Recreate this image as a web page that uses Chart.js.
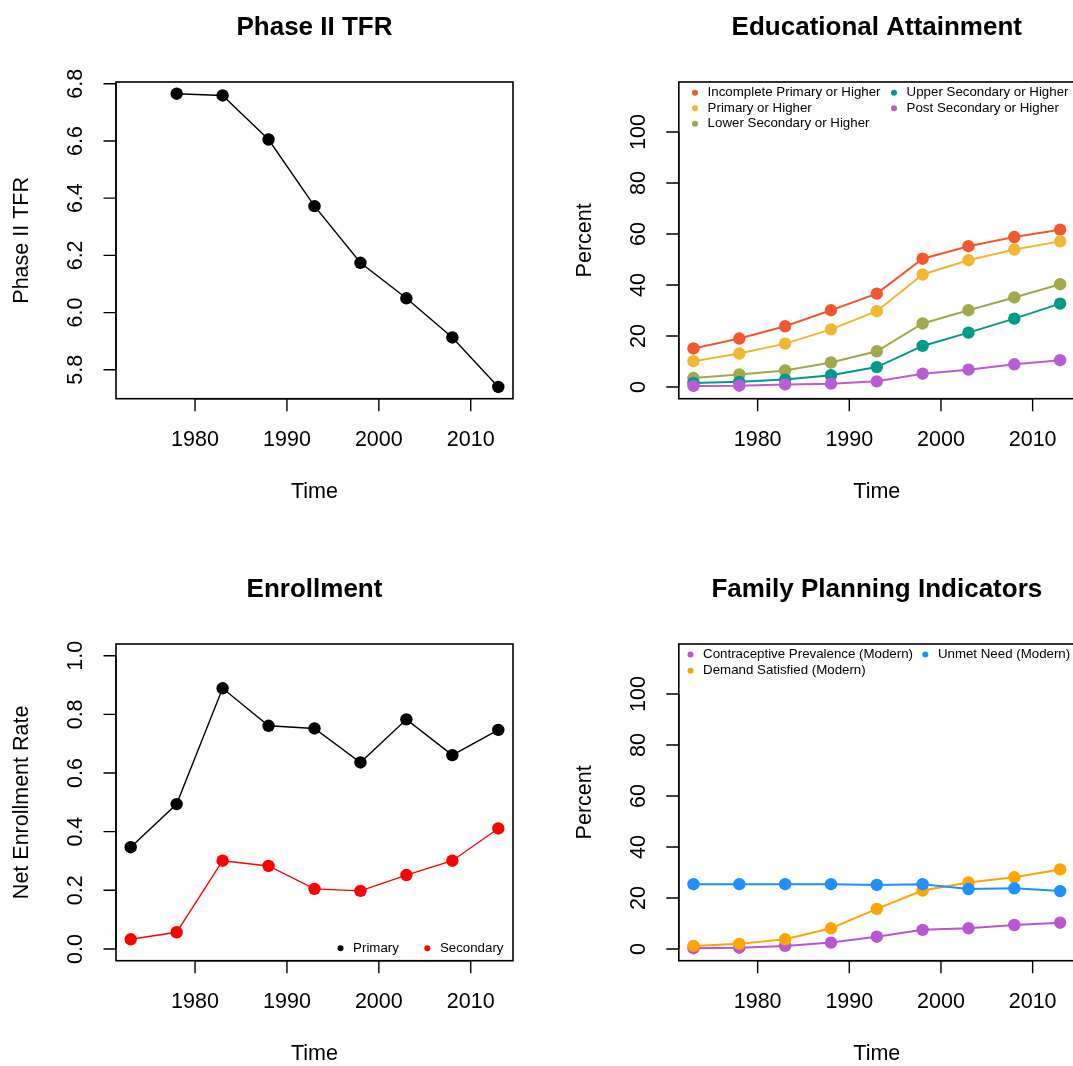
<!DOCTYPE html>
<html>
<head>
<meta charset="utf-8">
<title>Country indicators</title>
<script src="https://cdn.jsdelivr.net/npm/chart.js@4.4.1/dist/chart.umd.min.js"></script>
<style>
  html, body { margin: 0; padding: 0; background: #ffffff; overflow: hidden; width: 1073px; height: 1066px; }
  canvas { position: absolute; }
</style>
</head>
<body>
<canvas id="tfrChart" width="536" height="562" style="left:0;top:0"></canvas>
<canvas id="eduChart" width="545" height="562" style="left:536px;top:0"></canvas>
<canvas id="enrChart" width="536" height="504" style="left:0;top:562px"></canvas>
<canvas id="fpChart" width="545" height="504" style="left:536px;top:562px"></canvas>
<script>
// ---- data ----
const surveyYears = [1973, 1978, 1983, 1988, 1993, 1998, 2003, 2008, 2013];
const tfrYears = [1978, 1983, 1988, 1993, 1998, 2003, 2008, 2013];
const tfrValues = [6.765, 6.759, 6.605, 6.372, 6.174, 6.050, 5.913, 5.740];

const incompletePrimary = [15.1, 19.0, 23.8, 30.1, 36.6, 50.3, 55.2, 58.8, 61.7];
const primaryOrHigher   = [10.1, 13.1, 17.0, 22.6, 29.7, 44.1, 49.7, 53.9, 57.1];
const lowerSecondary    = [3.5, 4.9, 6.5, 9.6, 14.0, 24.9, 30.1, 35.1, 40.3];
const upperSecondary    = [1.6, 2.0, 2.9, 4.6, 7.8, 16.1, 21.3, 26.8, 32.7];
const postSecondary     = [0.4, 0.5, 1.0, 1.3, 2.2, 5.2, 6.8, 8.9, 10.5];

const enrollPrimary   = [0.347, 0.494, 0.889, 0.761, 0.752, 0.636, 0.783, 0.661, 0.747];
const enrollSecondary = [0.033, 0.057, 0.301, 0.283, 0.205, 0.198, 0.252, 0.301, 0.411];

const contraceptivePrev = [0.3, 0.5, 1.2, 2.5, 4.8, 7.5, 8.1, 9.4, 10.3];
const demandSatisfied   = [1.2, 2.0, 3.8, 8.1, 15.7, 22.9, 26.1, 28.1, 31.2];
const unmetNeed         = [25.4, 25.4, 25.4, 25.4, 25.1, 25.4, 23.5, 23.8, 22.7];

const xTickValues = [1980, 1990, 2000, 2010];
const tfrTicks = [5.8, 6.0, 6.2, 6.4, 6.6, 6.8];
const rateTicks = [0.0, 0.2, 0.4, 0.6, 0.8, 1.0];
const percentTicks = [0, 20, 40, 60, 80, 100];

const eduLabels = ['Incomplete Primary or Higher', 'Primary or Higher', 'Lower Secondary or Higher',
                   'Upper Secondary or Higher', 'Post Secondary or Higher'];
const fpLabels = ['Contraceptive Prevalence (Modern)', 'Demand Satisfied (Modern)', 'Unmet Need (Modern)'];
const enrLabels = ['Primary', 'Secondary'];

// ---- look ----
const FONT = '"Liberation Sans", Arial, Helvetica, sans-serif';
const X_MIN = 1971.4, X_MAX = 2014.6;

// Draws the frame, axes, titles and legend in the style of a base-graphics plot.
const frameAxes = {
  id: 'frameAxes',
  afterDraw(chart, args, o) {
    const ctx = chart.ctx;
    const a = chart.chartArea;
    const xs = chart.scales.x, ys = chart.scales.y;
    ctx.save();
    ctx.fillStyle = '#000';
    ctx.strokeStyle = '#000';

    // plot box
    ctx.lineWidth = 1.6;
    ctx.strokeRect(a.left, a.top, a.right - a.left, a.bottom - a.top);

    // x axis
    ctx.lineWidth = 1.4;
    ctx.font = '21.5px ' + FONT;
    ctx.textAlign = 'center';
    ctx.textBaseline = 'middle';
    ctx.beginPath();
    const xl = xs.getPixelForValue(xTickValues[0]);
    const xr = xs.getPixelForValue(xTickValues[xTickValues.length - 1]);
    ctx.moveTo(xl, a.bottom); ctx.lineTo(xr, a.bottom);
    xTickValues.forEach(v => {
      const px = xs.getPixelForValue(v);
      ctx.moveTo(px, a.bottom); ctx.lineTo(px, a.bottom + 12.5);
    });
    ctx.stroke();
    xTickValues.forEach(v => {
      ctx.fillText(String(v), xs.getPixelForValue(v), a.bottom + 41.5);
    });

    // y axis
    ctx.beginPath();
    const yb = ys.getPixelForValue(o.yTicks[0]);
    const yt = ys.getPixelForValue(o.yTicks[o.yTicks.length - 1]);
    ctx.moveTo(a.left, yb); ctx.lineTo(a.left, yt);
    o.yTicks.forEach(v => {
      const py = ys.getPixelForValue(v);
      ctx.moveTo(a.left - 12.5, py); ctx.lineTo(a.left, py);
    });
    ctx.stroke();
    o.yTicks.forEach(v => {
      ctx.save();
      ctx.translate(a.left - 40, ys.getPixelForValue(v));
      ctx.rotate(-Math.PI / 2);
      ctx.fillText(v.toFixed(o.decimals), 0, 0);
      ctx.restore();
    });

    // axis titles
    ctx.fillText('Time', (a.left + a.right) / 2, a.bottom + 93.5);
    ctx.save();
    ctx.translate(a.left - 93.5, (a.top + a.bottom) / 2);
    ctx.rotate(-Math.PI / 2);
    ctx.fillText(o.ylab, 0, 0);
    ctx.restore();

    // main title
    ctx.font = 'bold 26px ' + FONT;
    ctx.textBaseline = 'alphabetic';
    ctx.fillText(o.title, (a.left + a.right) / 2, a.top - 47);

    // legend
    ctx.font = '13.3px ' + FONT;
    ctx.textAlign = 'left';
    ctx.textBaseline = 'middle';
    o.legend.forEach(item => {
      const ds = chart.data.datasets[item.index];
      const cx = a.left + item.dx;
      const cy = item.fromBottom ? a.bottom - item.dy : a.top + item.dy;
      ctx.fillStyle = ds.borderColor;
      ctx.beginPath();
      ctx.arc(cx, cy, 3, 0, Math.PI * 2);
      ctx.fill();
      ctx.fillStyle = '#000';
      ctx.fillText(ds.label, cx + 12.6, cy);
    });
    ctx.restore();
  }
};

function series(label, ys, color, xsArr, width, idx, n) {
  return {
    label: label,
    data: ys.map((v, i) => ({ x: xsArr[i], y: v })),
    borderColor: color,
    backgroundColor: color,
    pointBackgroundColor: color,
    pointBorderWidth: 0,
    pointRadius: 6.2,
    pointHoverRadius: 6.2,
    borderWidth: width,
    tension: 0,
    order: n - 1 - idx,
    clip: false
  };
}

function makePanel(id, datasets, yMin, yMax, padding, frame) {
  return new Chart(document.getElementById(id), {
    type: 'line',
    data: { datasets: datasets },
    options: {
      responsive: false,
      animation: false,
      devicePixelRatio: 1,
      layout: { padding: padding },
      scales: {
        x: { type: 'linear', min: X_MIN, max: X_MAX, display: false },
        y: { type: 'linear', min: yMin, max: yMax, display: false }
      },
      plugins: {
        legend: { display: false },
        tooltip: { enabled: false },
        frameAxes: frame
      }
    },
    plugins: [frameAxes]
  });
}

const padLeftTop  = { left: 116, right: 23, top: 82, bottom: 163.3 };
const padRightTop = { left: 142.8, right: 5.6, top: 82, bottom: 163.3 };
const padLeftBot  = { left: 116, right: 23, top: 82, bottom: 105.3 };
const padRightBot = { left: 142.8, right: 5.6, top: 82, bottom: 105.3 };

// Phase II TFR
makePanel('tfrChart',
  [series('Phase II TFR', tfrValues, '#000000', tfrYears, 1.4, 0, 1)],
  5.699, 6.806, padLeftTop,
  { title: 'Phase II TFR', ylab: 'Phase II TFR', yTicks: tfrTicks, decimals: 1, legend: [] });

// Educational attainment
const eduColors = ['#F4562D', '#F2B632', '#A3A84B', '#009A8A', '#BB5CD6'];
const eduSeries = [incompletePrimary, primaryOrHigher, lowerSecondary, upperSecondary, postSecondary];
makePanel('eduChart',
  eduSeries.map((s, i) => series(eduLabels[i], s, eduColors[i], surveyYears, 2, i, eduSeries.length)),
  -4.6, 119.6, padRightTop,
  { title: 'Educational Attainment', ylab: 'Percent', yTicks: percentTicks, decimals: 0,
    legend: [
      { index: 0, dx: 16.2, dy: 10.8 }, { index: 1, dx: 16.2, dy: 26.3 }, { index: 2, dx: 16.2, dy: 41.8 },
      { index: 3, dx: 215.2, dy: 10.8 }, { index: 4, dx: 215.2, dy: 26.3 }
    ] });

// Enrollment
makePanel('enrChart',
  [series(enrLabels[0], enrollPrimary, '#000000', surveyYears, 1.4, 0, 2),
   series(enrLabels[1], enrollSecondary, '#FF0000', surveyYears, 1.4, 1, 2)],
  -0.04, 1.04, padLeftBot,
  { title: 'Enrollment', ylab: 'Net Enrollment Rate', yTicks: rateTicks, decimals: 1,
    legend: [
      { index: 0, dx: 224.5, dy: 12.4, fromBottom: true },
      { index: 1, dx: 311.3, dy: 12.4, fromBottom: true }
    ] });

// Family planning indicators
const fpColors = ['#BA55D3', '#FFA500', '#1E90FF'];
const fpSeries = [contraceptivePrev, demandSatisfied, unmetNeed];
makePanel('fpChart',
  fpSeries.map((s, i) => series(fpLabels[i], s, fpColors[i], surveyYears, 2, i, fpSeries.length)),
  -4.6, 119.6, padRightBot,
  { title: 'Family Planning Indicators', ylab: 'Percent', yTicks: percentTicks, decimals: 0,
    legend: [
      { index: 0, dx: 11.7, dy: 10.5 }, { index: 1, dx: 11.7, dy: 26.7 },
      { index: 2, dx: 246.5, dy: 10.5 }
    ] });
</script>
</body>
</html>
